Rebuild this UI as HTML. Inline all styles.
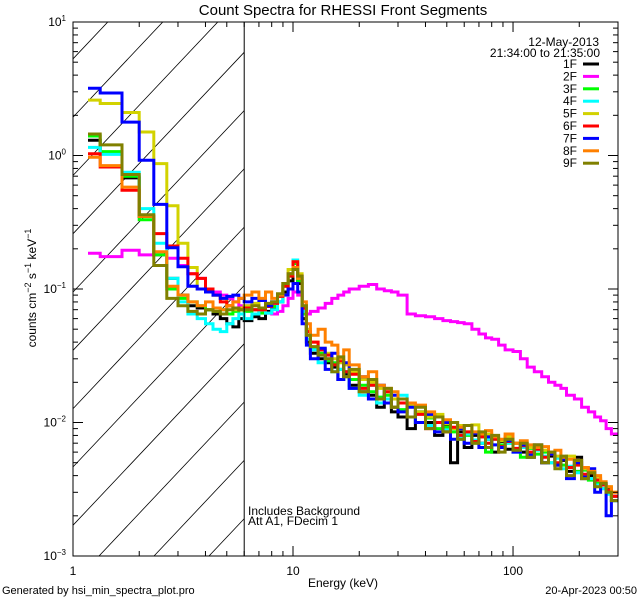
<!DOCTYPE html>
<html><head><meta charset="utf-8"><style>
html,body{margin:0;padding:0;background:#fff;}
svg{display:block;font-family:"Liberation Sans",sans-serif;}
</style></head><body>
<svg id="chart" width="640" height="600" xmlns="http://www.w3.org/2000/svg">
<rect width="640" height="600" fill="#fff"/>
<text x="343" y="15" font-size="15" text-anchor="middle">Count Spectra for RHESSI Front Segments</text>
<defs><clipPath id="plotclip"><rect x="73" y="22" width="545" height="534"/></clipPath>
<clipPath id="hatchclip"><rect x="73" y="22" width="171" height="534"/></clipPath></defs>
<g id="hatch" clip-path="url(#hatchclip)"></g>
<g id="series" clip-path="url(#plotclip)"></g>
<g id="axes"></g>
<text x="248" y="515" font-size="12">Includes Background</text>
<text x="248" y="525" font-size="12">Att A1, FDecim 1</text>
<text x="343" y="587" font-size="12" text-anchor="middle">Energy (keV)</text>
<text transform="translate(36,288) rotate(-90)" font-size="12" text-anchor="middle">counts cm<tspan dy="-5" font-size="9">−2</tspan><tspan dy="5"> s</tspan><tspan dy="-5" font-size="9">−1</tspan><tspan dy="5"> keV</tspan><tspan dy="-5" font-size="9">−1</tspan></text>
<text x="2" y="594" font-size="11">Generated by hsi_min_spectra_plot.pro</text>
<text x="637" y="594" font-size="11" text-anchor="end">20-Apr-2023 00:50</text>
<text x="599" y="46" font-size="12" text-anchor="end">12-May-2013</text>
<text x="600" y="57" font-size="12" text-anchor="end">21:34:00 to 21:35:00</text>
<g id="legend"></g>
</svg>
<script>
const energyEdges=[1.17,1.33,1.67,2,2.33,2.67,3,3.33,3.67,4,4.33,4.67,5,5.33,5.67,6,6.5,7,7.5,8,8.5,9,9.5,10,10.5,11,11.5,12,13,14,15,16,17,18,20,22,24,26,28,30,33,36,40,44,48,52,56,60,65,70,75,80,86,92,100,108,116,125,135,145,155,165,175,190,205,220,235,250,265,280,300];
const seriesNames=["1F","2F","3F","4F","5F","6F","7F","8F","9F"];
const seriesColors=["#000000","#ff00ff","#00ff00","#00ffff","#d2d200","#ff0000","#0000ff","#ff8000","#808000"];
const s1F=[1.3,1.05,0.68,0.35,0.18,0.12,0.09,0.075,0.072,0.07,0.065,0.06,0.055,0.052,0.06,
.058,.062,.060,.068,.072,.080,.095,.115,.140,.110,.060,.040,.033,.030,.028,.026,.021,.023,.019,.017,.016,.013,.015,.012,.011,.009,.012,.010,.008,.0095,.005,.0085,.0065,.008,.007,.0075,.006,.0072,.0063,.007,.006,.0055,.0068,.005,.0056,.0048,.0052,.0043,.0055,.0038,.004,.0035,.0034,.0032,.0028];
const s2F=[0.185,0.175,0.195,0.18,0.18,0.17,0.15,0.13,0.12,0.1,0.095,0.09,0.085,0.08,0.075,
.075,.07,.068,.066,.065,.068,.075,.085,.095,.09,.07,.065,.068,.072,.078,.085,.09,.095,.1,.105,.108,.1,.097,.095,.09,.065,.063,.062,.06,.058,.057,.056,.055,.05,.046,.043,.042,.038,.035,.034,.03,.026,.024,.022,.02,.019,.018,.016,.015,.013,.012,.011,.0103,.009,.0082];
const s3F=[1.4,1.07,0.7,0.33,0.18,0.1,0.085,0.08,0.075,0.07,0.068,0.07,0.065,0.068,0.07,
.068,.070,.066,.074,.074,.088,.105,.125,.155,.115,.065,.045,.036,.033,.029,.028,.025,.024,.021,.019,.017,.0155,.016,.013,.0125,.011,.010,.0108,.009,.0092,.0085,.0075,.008,.007,.0078,.006,.0075,.0068,.007,.0062,.0055,.0064,.0058,.006,.005,.0055,.0048,.0046,.0043,.0044,.0037,.0035,.0032,.0031,.0026];
const s4F=[1.15,1.02,0.75,0.4,0.22,0.12,0.08,0.065,0.06,0.055,0.05,0.048,0.055,0.06,0.065,
.060,.065,.070,.066,.070,.080,.110,.130,.165,.125,.068,.042,.035,.028,.030,.024,.025,.022,.018,.016,.019,.014,.015,.013,.016,.011,.012,.0095,.010,.0088,.009,.0078,.0082,.0074,.007,.0075,.0068,.0065,.007,.006,.0065,.0058,.0062,.0056,.005,.0054,.0045,.0047,.0042,.004,.0038,.0034,.0032,.0029,.0026];
const s5F=[2.6,2.45,2.1,1.5,0.87,0.42,0.22,0.145,0.1,0.095,0.09,0.085,0.075,0.07,0.072,
.075,.078,.070,.075,.080,.090,.110,.140,.160,.130,.075,.050,.040,.036,.033,.030,.028,.027,.024,.021,.020,.018,.017,.015,.014,.0135,.012,.011,.0115,.0098,.009,.0095,.0085,.0096,.008,.0082,.0076,.0073,.0078,.007,.0068,.0065,.0064,.0062,.0058,.0056,.0055,.0056,.005,.0045,.0042,.0038,.0035,.0033,.003];
const s6F=[1.03,0.82,0.55,0.35,0.26,0.21,0.17,0.13,0.12,0.1,0.09,0.08,0.075,0.072,0.07,
.072,.070,.070,.074,.078,.088,.105,.125,.160,.125,.072,.048,.040,.035,.032,.027,.029,.024,.023,.018,.019,.015,.017,.013,.014,.011,.0115,.009,.010,.0085,.0092,.008,.0085,.0072,.0078,.007,.0075,.0066,.0072,.0064,.0067,.006,.0063,.0055,.0058,.005,.0054,.0046,.0048,.0041,.0042,.0037,.0034,.0031,.0028];
const s7F=[3.19,2.94,1.78,0.92,0.43,0.204,0.147,0.105,0.1,0.095,0.09,0.085,0.088,0.09,0.085,
.080,.085,.082,.075,.080,.090,.090,.100,.110,.095,.055,.038,.030,.036,.025,.033,.021,.028,.018,.022,.015,.019,.014,.016,.012,.013,.010,.0115,.0085,.010,.0075,.009,.007,.0083,.0065,.0078,.0068,.0065,.0073,.006,.0068,.0057,.0065,.005,.0058,.0048,.0053,.0038,.005,.0039,.0045,.003,.0035,.002,.0026];
const s8F=[0.97,0.84,0.58,0.35,0.19,0.105,0.09,0.08,0.075,0.08,0.072,0.07,0.075,0.08,0.085,
.090,.095,.085,.095,.085,.090,.110,.130,.145,.120,.080,.055,.045,.050,.040,.038,.030,.035,.027,.022,.024,.019,.018,.017,.015,.014,.0135,.012,.011,.0105,.010,.0092,.0095,.0085,.0083,.0087,.0078,.0075,.0082,.007,.0073,.0068,.0065,.0066,.006,.0062,.0055,.0053,.0052,.0046,.0043,.004,.0036,.0033,.003];
const s9F=[1.45,1.2,0.72,0.36,0.15,0.085,0.075,0.068,0.065,0.07,0.068,0.065,0.07,0.072,0.07,
.070,.075,.072,.078,.080,.092,.110,.130,.140,.125,.075,.045,.037,.032,.030,.024,.031,.022,.025,.017,.021,.015,.018,.013,.015,.011,.013,.009,.011,.0085,.010,.0075,.0095,.007,.0085,.0065,.008,.006,.0075,.0062,.007,.0055,.0068,.005,.006,.0045,.0056,.004,.0052,.0038,.0042,.0033,.0035,.003,.0026];
const seriesValues=[s1F,s2F,s3F,s4F,s5F,s6F,s7F,s8F,s9F];
const xTickLabels=["1","10","100"];
const yTickExponents=["-3","-2","-1","0","1"];

const NS="http://www.w3.org/2000/svg";
const L=73,R=618,T=22,B=556;
const XMIN=1,XMAX=300,YMIN=1e-3,YMAX=10;
function xs(e){return L+(Math.log10(e)-Math.log10(XMIN))/(Math.log10(XMAX)-Math.log10(XMIN))*(R-L);}
function ys(v){return B-(Math.log10(v)-Math.log10(YMIN))/(Math.log10(YMAX)-Math.log10(YMIN))*(B-T);}
function mk(tag,attrs,parent){const el=document.createElementNS(NS,tag);for(const k in attrs)el.setAttribute(k,attrs[k]);parent.appendChild(el);return el;}

// hatching
const hatch=document.getElementById('hatch');
for(let k=-12;k<4;k++){
  const x0=99+55*k;
  const ln=mk('line',{x1:x0,y1:B,x2:x0+560,y2:B-560*1.06,stroke:'#000','stroke-width':0.8},hatch);
  
  
}
// threshold line
const th=mk('line',{x1:xs(6),y1:T,x2:xs(6),y2:B,stroke:'#000','stroke-width':1},document.getElementById('axes'));



// series
const sg=document.getElementById('series');
seriesValues.forEach((vals,si)=>{
  let d='';
  vals.forEach((v,i)=>{
    const x1=xs(energyEdges[i]),x2=xs(energyEdges[i+1]),y=ys(v);
    d+=(i===0?'M':'L')+x1.toFixed(1)+','+y.toFixed(1)+'L'+x2.toFixed(1)+','+y.toFixed(1);
  });
  const p=mk('path',{d:d,fill:'none',stroke:seriesColors[si],'stroke-width':3,'stroke-linejoin':'miter'},sg);
  
  
});

// axes box & ticks
const ax=document.getElementById('axes');
const box=mk('rect',{x:L,y:T,width:R-L,height:B-T,fill:'none',stroke:'#000','stroke-width':1},ax);


for(let dec=0;dec<3;dec++){
  for(let m=1;m<10;m++){
    const e=m*Math.pow(10,dec); if(e>XMAX)break;
    const x=xs(e),len=(m===1)?10:5;
    const t1=mk('line',{x1:x,y1:B,x2:x,y2:B-len,stroke:'#000'},ax);
    
    
    const t2=mk('line',{x1:x,y1:T,x2:x,y2:T+len,stroke:'#000'},ax);
    
    
  }
}
xTickLabels.forEach((lab,i)=>{
  const t=mk('text',{x:xs(Math.pow(10,i)),y:575,'font-size':12,'text-anchor':'middle'},ax);
  t.textContent=lab;
  
  
});
for(let dec=-3;dec<1;dec++){
  for(let m=1;m<10;m++){
    const v=m*Math.pow(10,dec),y=ys(v),len=(m===1)?10:5;
    const t1=mk('line',{x1:L,y1:y,x2:L+len,y2:y,stroke:'#000'},ax);
    
    
    const t2=mk('line',{x1:R,y1:y,x2:R-len,y2:y,stroke:'#000'},ax);
    
    
  }
}
yTickExponents.forEach((ex)=>{
  const y=ys(Math.pow(10,+ex));
  const t=mk('text',{x:66,y:y+4,'font-size':12,'text-anchor':'end'},ax);
  t.innerHTML='10<tspan dy="-5" font-size="8">'+ex.replace('-','−')+'</tspan>';
  
  
});

// legend
const lg=document.getElementById('legend');
seriesNames.forEach((n,i)=>{
  const y=64+12.4*i;
  const t=mk('text',{x:577,y:y+4,'font-size':12,'text-anchor':'end'},lg);
  t.textContent=n;
  
  
  const l=mk('line',{x1:583,y1:y,x2:599,y2:y,stroke:seriesColors[i],'stroke-width':3},lg);
  
  
});
</script>
</body></html>
